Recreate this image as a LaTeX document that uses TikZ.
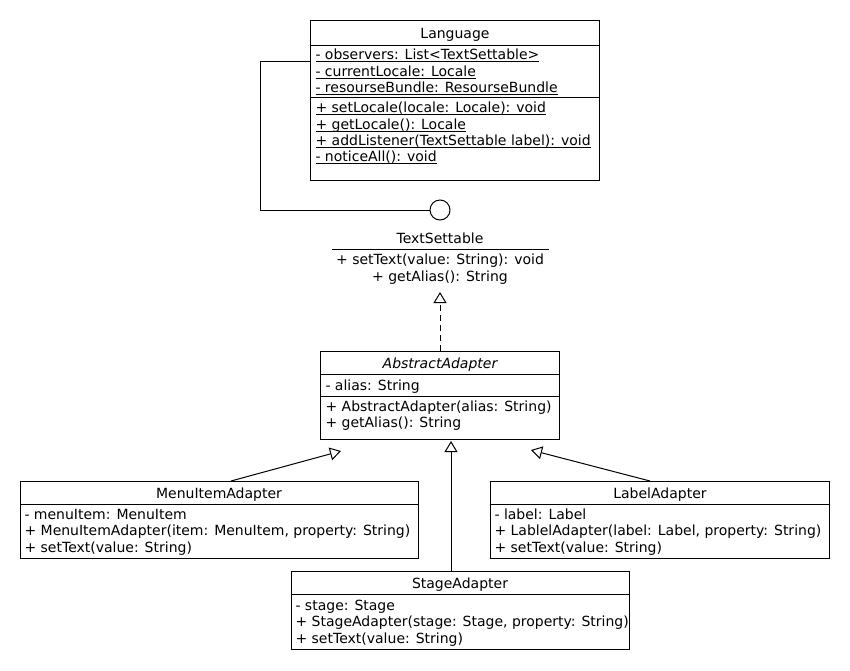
\documentclass[tikz,border=0pt]{standalone}
\usepackage{fontspec}
\setmainfont{DejaVu Sans}
\usetikzlibrary{arrows.meta}
\newcommand{\static}[1]{\setbox0=\hbox{#1}\rlap{\vrule height -1.5pt depth 2.5pt width \wd0}\box0}
\tikzset{
  uml/.style={x=1pt,y=-1pt,line width=1pt,font=\fontsize{14}{16}\selectfont},
  classbox/.style={draw,anchor=north west,inner sep=0pt},
  member/.style={anchor=west,inner sep=0pt,text height=10pt,text depth=3pt,yshift=-2pt},
  title/.style={anchor=center,inner sep=0pt,text height=10pt,text depth=3pt,yshift=-2pt},
  extends/.style={-{Triangle[open,width=13pt,length=11pt]}},
  realizes/.style={extends,dashed,dash pattern=on 6pt off 4pt}
}
\begin{document}
\begin{tikzpicture}[uml]
  \useasboundingbox (0,0) rectangle (850,670);
  % Language
  \node[classbox,minimum width=289pt,minimum height=160pt] (lang) at (310,20) {};
  \node[title] (langT) at (455,33) {Language};
  \draw (310,45) -- (599,45);
  \node[member] (lang1) at (315,54) {\static{- observers: List<TextSettable>}};
  \node[member] (lang2) at (315,71) {\static{- currentLocale: Locale}};
  \node[member] (lang3) at (315,87) {\static{- resourseBundle: ResourseBundle}};
  \draw (310,97) -- (599,97);
  \node[member] (lang4) at (315,107) {\static{+ setLocale(locale: Locale): void}};
  \node[member] (lang5) at (315,124) {\static{+ getLocale(): Locale}};
  \node[member] (lang6) at (315,140) {\static{+ addListener(TextSettable label): void}};
  \node[member] (lang7) at (315,156) {\static{- noticeAll(): void}};
  % TextSettable interface
  \node[draw,circle,minimum size=20pt,inner sep=0pt] (ts) at (440,210) {};
  \coordinate (langL) at (310,61);
  \draw (ts.west) -- (260,210) -- (260,61) -- (langL);
  \node[title] (tsT) at (440,238) {TextSettable};
  \draw (332,249) -- (549,249);
  \node[title] (ts1) at (440,259) {+ setText(value: String): void};
  \node[title] (ts2) at (440,276) {+ getAlias(): String};
  % AbstractAdapter
  \node[classbox,minimum width=239pt,minimum height=88pt] (abs) at (320,351) {};
  \node[title] (absT) at (440,363) {\itshape AbstractAdapter};
  \draw (320,374) -- (559,374);
  \node[member] (abs1) at (325,385) {- alias: String};
  \draw (320,396) -- (559,396);
  \node[member] (abs2) at (325,406) {+ AbstractAdapter(alias: String)};
  \node[member] (abs3) at (325,422) {+ getAlias(): String};
  \coordinate (tsB) at (440,292);
  \draw[realizes] (abs.north -| tsB) -- (tsB);
  % MenuItemAdapter
  \node[classbox,minimum width=398pt,minimum height=77pt] (menu) at (20,481) {};
  \node[title] (menuT) at (219,493) {MenuItemAdapter};
  \draw (20,504) -- (418,504);
  \node[member] (menu1) at (24,514) {- menuItem: MenuItem};
  \node[member] (menu2) at (24,530) {+ MenuItemAdapter(item: MenuItem, property: String)};
  \node[member] (menu3) at (24,547) {+ setText(value: String)};
  % LabelAdapter
  \node[classbox,minimum width=339pt,minimum height=77pt] (label) at (490,481) {};
  \node[title] (labelT) at (660,493) {LabelAdapter};
  \draw (490,504) -- (829,504);
  \node[member] (label1) at (494,514) {- label: Label};
  \node[member] (label2) at (494,530) {+ LablelAdapter(label: Label, property: String)};
  \node[member] (label3) at (494,547) {+ setText(value: String)};
  % StageAdapter
  \node[classbox,minimum width=338pt,minimum height=78pt] (stage) at (291,571) {};
  \node[title] (stageT) at (460,583) {StageAdapter};
  \draw (291,594) -- (629,594);
  \node[member] (stage1) at (295,605) {- stage: Stage};
  \node[member] (stage2) at (295,621) {+ StageAdapter(stage: Stage, property: String)};
  \node[member] (stage3) at (295,638) {+ setText(value: String)};
  % generalisations
  \coordinate (menuTop) at (231,481);
  \coordinate (absL) at (341,451);
  \coordinate (stageTop) at (451,571);
  \coordinate (absM) at (451,441);
  \coordinate (labelTop) at (650,481);
  \coordinate (absR) at (531,450);
  \draw[extends] (menuTop) -- (absL);
  \draw[extends] (stageTop) -- (absM);
  \draw[extends] (labelTop) -- (absR);
\end{tikzpicture}
\end{document}
